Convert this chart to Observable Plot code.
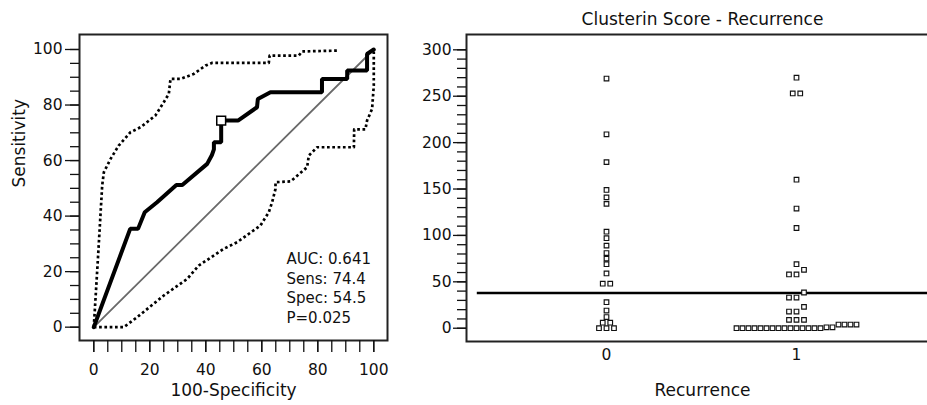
<!DOCTYPE html>
<html><head><meta charset="utf-8">
<script src="https://cdn.jsdelivr.net/npm/d3@7"></script>
<script src="https://cdn.jsdelivr.net/npm/@observablehq/plot@0.6"></script>
<style>
html,body{margin:0;padding:0;background:#fff;}
body{width:927px;height:405px;overflow:hidden;position:relative;}
#roc{position:absolute;left:0;top:0;width:400px;height:405px;}
#dots{position:absolute;left:400px;top:0;width:560px;height:405px;}
svg{max-width:none !important;}
</style></head><body>
<div id="roc"></div><div id="dots"></div>
<script>
// ---- ROC panel data ----
const rocFpr  = [0, 13, 15.8, 18.2, 22.6, 29.5, 31.6, 40.5, 42.2, 42.9, 42.9, 45.5, 45.5, 51.5, 58.3, 58.6, 63.1, 81.5, 81.5, 90.5, 90.5, 97.6, 97.6, 100];
const rocSens = [0, 35.4, 35.4, 41.4, 45, 51.2, 51.2, 58.8, 62, 64, 66.6, 66.6, 74.4, 74.4, 79.2, 82.2, 84.6, 84.6, 89.4, 89.4, 92.4, 92.4, 98.4, 100];
const upperFpr  = [0, 1.5, 3, 3.6, 6, 8.9, 13.1, 16.7, 22, 25, 26.8, 27.4, 31, 35.7, 39.9, 42.3, 62.5, 62.8, 73.2, 74.4, 87.5];
const upperSens = [0, 25, 51, 55.8, 60.6, 65.4, 70.2, 72, 76.2, 81, 84, 89.4, 89.4, 91.2, 94.2, 95.2, 95.2, 97.8, 97.8, 99.3, 99.6];
const lowerFpr  = [0, 10.7, 15.5, 25, 33.4, 37.5, 46.4, 51.2, 59.5, 62.5, 63.7, 64.9, 64.9, 70.3, 76.2, 76.8, 79.8, 92.9, 93, 97, 97.6, 99.4, 100, 100, 100];
const lowerSens = [0, 0, 3.6, 11.4, 17.4, 22.2, 28.2, 30.6, 36.6, 41.4, 45, 49.8, 52.2, 52.5, 57.6, 61.8, 64.8, 64.8, 71.2, 71.2, 74.4, 78.6, 87, 97.8, 100];
const chanceLine = [0, 100];
const optSens = 74.4, optSpec = 54.5;
const stats = ["AUC: 0.641", "Sens: 74.4", "Spec: 54.5", "P=0.025"];
const rocXTicks = [0, 20, 40, 60, 80, 100];

// ---- Dot panel data ----
const groups = [0, 1];
const group0 = [269, 209, 179, 149, 141, 134, 104, 97, 89, 81, 75, 69, 59, 48, 48, 28, 19, 12, 6, 6, 0, 0, 0];
const group1 = [270, 253, 253, 160, 129, 108, 69, 63, 58, 58, 38.5, 33, 33, 23, 18, 18, 9, 9, 9, 4, 4, 4, 4, 1, 1,
                0, 0, 0, 0, 0, 0, 0, 0, 0, 0, 0, 0, 0, 0, 0];
const cutoff = 38;
const dotYTicks = [0, 50, 100, 150, 200, 250, 300];

const FONT = "DejaVu Sans, sans-serif";
const INK = "#111";

// ---------- ROC chart ----------
const toPts = (xs, ys) => xs.map((x, i) => ({x, y: ys[i]}));
const roc = toPts(rocFpr, rocSens);
const upper = toPts(upperFpr, upperSens);
const lower = toPts(lowerFpr, lowerSens);
const diag = toPts(chanceLine, chanceLine);
const cut = [{x: 100 - optSpec, y: optSens}];

const rocPlot = Plot.plot({
  width: 400, height: 405,
  marginLeft: 79, marginRight: 13, marginTop: 34, marginBottom: 65,
  style: {fontFamily: FONT, fontSize: "15.5px", color: INK, background: "white", maxWidth: "none"},
  x: {domain: [-5.1, 104.9]},
  y: {domain: [-4.8, 105.4]},
  marks: [
    Plot.line(diag, {x: "x", y: "y", stroke: "#6a6a6a", strokeWidth: 1.8}),
    Plot.line(upper, {x: "x", y: "y", stroke: "#000", strokeWidth: 2.7, strokeDasharray: "2.7 2.6", strokeLinecap: "butt"}),
    Plot.line(lower, {x: "x", y: "y", stroke: "#000", strokeWidth: 2.7, strokeDasharray: "2.7 2.6", strokeLinecap: "butt"}),
    Plot.line(roc, {x: "x", y: "y", stroke: "#000", strokeWidth: 4, strokeLinejoin: "miter"}),
    Plot.dot(cut, {x: "x", y: "y", symbol: "square", r: 5, fill: "white", stroke: "#000", strokeWidth: 1.5}),
    Plot.frame({stroke: "#222", strokeWidth: 2}),
    Plot.axisY(d3.range(0, 101, 5), {tickSize: 9, tickFormat: () => "", label: null, strokeWidth: 1.3}),
    Plot.axisY(rocXTicks, {tickSize: 14, tickPadding: 3, label: null, strokeWidth: 1.3, fontSize: 15.5}),
    Plot.axisX(d3.range(0, 101, 5), {tickSize: 12, tickFormat: () => "", label: null, strokeWidth: 1.3}),
    Plot.axisX(rocXTicks, {tickSize: 12, tickPadding: 11, label: null, strokeWidth: 1.3, fontSize: 15.5}),
    Plot.text(["Sensitivity"], {text: d => d, frameAnchor: "left", dx: -60, rotate: -90, fontSize: 17, fill: INK}),
    Plot.text(["100-Specificity"], {text: d => d, frameAnchor: "bottom", dy: 55, lineAnchor: "bottom", fontSize: 17, fill: INK}),
    Plot.text([stats.join("\n")], {text: d => d, frameAnchor: "bottom-left", dx: 207, dy: -17.3, textAnchor: "start",
      lineAnchor: "bottom", lineHeight: 1.32, fontSize: 15, fill: INK})
  ]
});
document.getElementById("roc").append(rocPlot);

// ---------- Dot chart ----------
const W = 560, ML = 66, MR = 22;
const xDomain = [-0.7368, 1.7474];
const pxPerUnit = (W - ML - MR) / (xDomain[1] - xDomain[0]);
const ROW_T = 6;
function layout(values, cat) {
  const s = values.slice().sort((a, b) => a - b);
  const rows = [];
  for (const v of s) {
    const r = rows[rows.length - 1];
    if (r && v - r[0] < ROW_T) r.push(v); else rows.push([v]);
  }
  const out = [];
  for (const r of rows) {
    const step = r.length > 4 ? 6 : 7.5;
    r.forEach((v, i) => out.push({cat, value: v, x: cat + ((i - (r.length - 1) / 2) * step) / pxPerUnit}));
  }
  return out;
}
const pts = [...layout(group0, groups[0]), ...layout(group1, groups[1])];

const dotPlot = Plot.plot({
  width: W, height: 405,
  marginLeft: ML, marginRight: MR, marginTop: 34, marginBottom: 64,
  style: {fontFamily: FONT, fontSize: "15.5px", color: INK, background: "white", maxWidth: "none"},
  x: {domain: xDomain},
  y: {domain: [-14.3, 316.5]},
  marks: [
    Plot.ruleY([cutoff], {x1: -0.68, x2: xDomain[1], stroke: "#000", strokeWidth: 2.4}),
    Plot.dot(pts, {x: "x", y: "value", symbol: "square", r: 2.6, fill: "white", stroke: "#111", strokeWidth: 1.15}),
    Plot.frame({stroke: "#222", strokeWidth: 2}),
    Plot.axisY(d3.range(0, 301, 10), {tickSize: 9, tickFormat: () => "", label: null, strokeWidth: 1.3}),
    Plot.axisY(dotYTicks, {tickSize: 13, tickPadding: 2, label: null, strokeWidth: 1.3, fontSize: 15.5}),
    Plot.axisX(groups, {tickSize: 0, tickPadding: 7, label: null, fontSize: 15.5, tickFormat: d3.format("d")}),
    Plot.text(["Clusterin Score - Recurrence"], {text: d => d, frameAnchor: "top", dy: -10, lineAnchor: "bottom", fontSize: 17, fill: INK}),
    Plot.text(["Recurrence"], {text: d => d, frameAnchor: "bottom", dy: 54, lineAnchor: "bottom", fontSize: 17, fill: INK})
  ]
});
document.getElementById("dots").append(dotPlot);
</script>
</body></html>
